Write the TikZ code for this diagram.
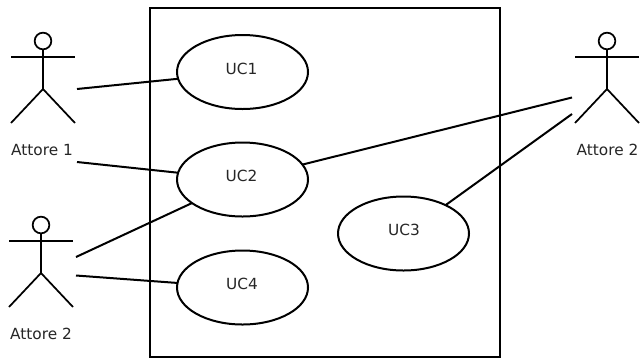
\documentclass[tikz,border=0pt]{standalone}
\usepackage{fontspec}
\setmainfont{DejaVu Sans}
\usetikzlibrary{shapes.geometric}
\tikzset{
  x=0.75pt,y=-0.75pt,
  usecase/.style={ellipse,draw=black,line width=1.5pt,minimum width=98.25pt,minimum height=55.5pt,inner sep=0pt,outer sep=0pt},
  uclabel/.style={font=\fontsize{11.5}{13}\selectfont,text=black!85,inner sep=0pt},
  head/.style={circle,draw=black,line width=1.3pt,minimum size=12.5pt,inner sep=0pt,outer sep=0pt},
  limb/.style={draw=black,line width=1.3pt},
  assoc/.style={draw=black,line width=1.5pt},
  label/.style={font=\fontsize{11.5}{13}\selectfont,text=black!85,inner sep=0pt},
  systembox/.style={draw=black,line width=1.6pt}
}
\newcommand{\actorfig}[3]{%
  \node[head] (#3head) at (#1,#2) {};
  \draw[limb] (#3head.south) -- (#1,#2+48) coordinate (#3hip);
  \draw[limb] (#1-32,#2+16) -- (#1+32,#2+16);
  \draw[limb] (#1-32,#2+82) -- (#3hip) -- (#1+32,#2+82);
}
\begin{document}
\begin{tikzpicture}
\useasboundingbox (0,0) rectangle (641,358);
\fill[white] (0,0) rectangle (641,358);
\draw[systembox] (150,8.2) rectangle (500,357);

\node[usecase] (uc1) at (242.5,72) {};
\node[usecase] (uc2) at (242.5,179.5) {};
\node[usecase] (uc3) at (403.5,233.5) {};
\node[usecase] (uc4) at (242.5,287.5) {};
\node[uclabel] (t1) at (241.5,69) {UC1};
\node[uclabel] (t2) at (241.5,176) {UC2};
\node[uclabel] (t3) at (404,230) {UC3};
\node[uclabel] (t4) at (242,284) {UC4};

\actorfig{43}{41}{a}
\actorfig{41}{225}{b}
\actorfig{607}{41}{c}
\node[label] (la) at (42,150) {Attore 1};
\node[label] (lb) at (41,333.5) {Attore 2};
\node[label] (lc) at (607.5,150) {Attore 2};

\coordinate (p1) at (77,89);
\coordinate (p2) at (77,162);
\coordinate (p3) at (76,257);
\coordinate (p4) at (76,275.5);
\coordinate (p5) at (572,97.5);
\coordinate (p6) at (572,114);

\draw[assoc] (p1) -- (uc1.186);
\draw[assoc] (p2) -- (uc2.174);
\draw[assoc] (p3) -- (uc2.205);
\draw[assoc] (p4) -- (uc4.176);
\draw[assoc] (p5) -- (uc2.14);
\draw[assoc] (p6) -- (uc3.34);
\end{tikzpicture}
\end{document}
